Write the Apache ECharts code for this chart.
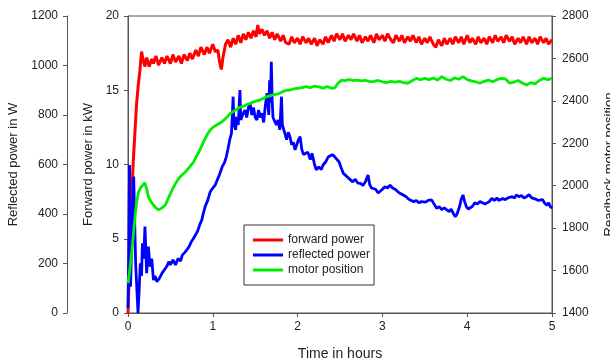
<!DOCTYPE html>
<html>
<head>
<meta charset="utf-8">
<script src="https://cdn.jsdelivr.net/npm/echarts@6/dist/echarts.min.js"></script>
<style>html,body{margin:0;padding:0;background:#fff}#c{width:610px;height:360px}</style>
</head>
<body>
<div id="c"></div>
<script>
// Data: [time in hours, value]
const forwardPower = [[0,0],[0.02,3.5],[0.04,7.0],[0.06,10.0],[0.08,12.0],[0.1,14.0],[0.12,15.3],[0.14,16.3],[0.16,17.6],[0.18,17.0],[0.2,16.6],[0.22,17.2],[0.25,16.6],[0.28,17.1],[0.3,16.8],[0.33,17.3],[0.36,16.7],[0.4,17.2],[0.43,16.8],[0.46,17.3],[0.5,16.8],[0.53,17.4],[0.56,16.9],[0.6,17.3],[0.63,16.8],[0.66,17.4],[0.7,17.0],[0.73,17.5],[0.76,17.1],[0.8,17.7],[0.83,17.3],[0.86,17.9],[0.9,17.4],[0.93,17.9],[0.96,17.5],[1.0,18.1],[1.03,17.6],[1.06,17.7],[1.08,16.9],[1.1,16.4],[1.12,17.2],[1.15,18.1],[1.18,18.4],[1.21,17.9],[1.24,18.5],[1.27,18.1],[1.3,18.7],[1.33,18.2],[1.36,18.8],[1.39,18.4],[1.42,18.9],[1.45,18.5],[1.48,19.0],[1.51,18.6],[1.53,19.4],[1.55,18.8],[1.58,19.1],[1.61,18.7],[1.64,19.0],[1.67,18.5],[1.7,18.9],[1.73,18.4],[1.76,18.8],[1.8,18.3],[1.83,18.7],[1.86,18.2],[1.9,18.1],[1.93,18.6],[1.96,18.2],[2.0,18.5],[2.03,18.1],[2.06,18.6],[2.1,18.2],[2.13,18.5],[2.16,18.1],[2.2,18.5],[2.23,18.0],[2.26,18.4],[2.3,18.1],[2.33,18.6],[2.36,18.2],[2.4,18.7],[2.43,18.3],[2.46,18.8],[2.5,18.4],[2.53,18.8],[2.56,18.3],[2.6,18.7],[2.63,18.4],[2.66,18.8],[2.7,18.3],[2.73,18.7],[2.76,18.2],[2.8,18.6],[2.83,18.3],[2.86,18.7],[2.9,18.2],[2.93,18.8],[2.96,18.4],[3.0,18.7],[3.03,18.3],[3.06,18.8],[3.1,18.4],[3.13,18.2],[3.16,18.7],[3.2,18.3],[3.23,18.7],[3.26,18.2],[3.3,18.6],[3.33,18.3],[3.36,18.7],[3.4,18.2],[3.43,18.6],[3.46,18.1],[3.5,18.5],[3.53,18.2],[3.56,18.6],[3.6,18.1],[3.63,17.9],[3.66,18.4],[3.7,18.0],[3.73,18.5],[3.76,18.1],[3.8,18.5],[3.83,18.1],[3.86,18.6],[3.9,18.2],[3.93,18.6],[3.96,18.1],[4.0,18.7],[4.03,18.2],[4.06,18.5],[4.1,18.1],[4.13,18.6],[4.16,18.2],[4.2,18.5],[4.23,18.1],[4.26,18.6],[4.3,18.2],[4.33,18.7],[4.36,18.3],[4.4,18.6],[4.43,18.2],[4.46,18.7],[4.5,18.3],[4.53,18.6],[4.56,18.1],[4.6,18.5],[4.63,18.2],[4.66,18.6],[4.7,18.1],[4.73,18.6],[4.76,18.2],[4.8,18.5],[4.83,18.1],[4.86,18.6],[4.9,18.2],[4.93,18.5],[4.96,18.1],[5.0,18.4]];

const reflectedPower = [[0,20],[0.01,300],[0.018,598],[0.03,106],[0.045,300],[0.067,551],[0.09,200],[0.118,0],[0.13,80],[0.145,201],[0.16,150],[0.17,282],[0.185,220],[0.2,349],[0.22,161],[0.24,268],[0.26,187],[0.28,220],[0.3,133],[0.32,150],[0.34,127],[0.37,140],[0.4,160],[0.43,175],[0.46,190],[0.48,207],[0.5,195],[0.53,215],[0.56,194],[0.59,220],[0.62,210],[0.64,234],[0.67,245],[0.7,258],[0.72,268],[0.75,290],[0.77,300],[0.79,308],[0.82,330],[0.85,360],[0.87,376],[0.89,405],[0.91,430],[0.94,455],[0.97,490],[1.0,505],[1.03,518],[1.05,524],[1.08,560],[1.11,590],[1.14,610],[1.16,632],[1.18,665],[1.2,700],[1.22,726],[1.23,800],[1.24,874],[1.25,760],[1.27,740],[1.28,793],[1.3,760],[1.32,901],[1.33,780],[1.35,800],[1.38,820],[1.4,790],[1.42,830],[1.44,847],[1.46,800],[1.48,830],[1.5,790],[1.52,780],[1.54,820],[1.56,790],[1.58,807],[1.6,770],[1.62,840],[1.64,888],[1.66,800],[1.67,940],[1.68,850],[1.69,1015],[1.7,860],[1.71,790],[1.73,793],[1.75,760],[1.77,780],[1.79,740],[1.81,874],[1.82,760],[1.85,726],[1.87,700],[1.89,730],[1.91,712],[1.93,680],[1.95,690],[1.97,659],[1.99,680],[2.01,700],[2.03,712],[2.05,660],[2.07,640],[2.09,632],[2.12,650],[2.15,620],[2.17,645],[2.2,600],[2.22,578],[2.25,590],[2.28,580],[2.3,598],[2.33,610],[2.36,630],[2.38,625],[2.41,640],[2.44,630],[2.46,638],[2.49,610],[2.51,590],[2.54,564],[2.57,555],[2.6,545],[2.62,537],[2.65,530],[2.68,540],[2.71,525],[2.74,524],[2.77,515],[2.8,530],[2.83,558],[2.85,520],[2.87,505],[2.89,497],[2.92,500],[2.95,485],[2.97,490],[3.0,500],[3.03,510],[3.06,505],[3.09,517],[3.12,505],[3.15,500],[3.17,497],[3.2,485],[3.23,480],[3.25,477],[3.28,470],[3.31,460],[3.34,455],[3.37,450],[3.4,455],[3.43,445],[3.46,450],[3.48,443],[3.51,448],[3.54,455],[3.56,460],[3.58,457],[3.61,440],[3.64,423],[3.67,430],[3.7,418],[3.73,425],[3.76,416],[3.79,410],[3.81,420],[3.84,400],[3.86,389],[3.88,400],[3.91,430],[3.93,460],[3.95,477],[3.97,450],[3.99,430],[4.01,420],[4.03,416],[4.06,430],[4.09,445],[4.12,440],[4.15,450],[4.18,445],[4.21,440],[4.23,436],[4.26,450],[4.29,463],[4.32,455],[4.35,465],[4.37,455],[4.39,457],[4.42,462],[4.45,458],[4.48,465],[4.5,463],[4.53,470],[4.56,465],[4.58,477],[4.61,470],[4.64,475],[4.67,465],[4.7,470],[4.73,478],[4.76,465],[4.78,470],[4.81,460],[4.84,455],[4.86,450],[4.89,458],[4.91,445],[4.94,436],[4.96,445],[4.98,430],[5.0,423]];

const motorPosition = [[0,1540],[0.02,1600],[0.047,1697],[0.07,1800],[0.09,1880],[0.106,1933],[0.125,1970],[0.145,1988],[0.17,2000],[0.197,2014],[0.22,1985],[0.24,1948],[0.27,1925],[0.3,1909],[0.33,1895],[0.36,1886],[0.4,1895],[0.44,1909],[0.48,1945],[0.52,1980],[0.56,2010],[0.6,2035],[0.64,2052],[0.68,2066],[0.72,2085],[0.77,2110],[0.81,2140],[0.85,2170],[0.9,2215],[0.94,2245],[0.97,2263],[1.0,2275],[1.04,2285],[1.08,2294],[1.12,2305],[1.16,2320],[1.2,2338],[1.24,2349],[1.28,2360],[1.32,2370],[1.36,2375],[1.4,2382],[1.44,2388],[1.48,2395],[1.52,2400],[1.56,2405],[1.6,2412],[1.64,2420],[1.68,2425],[1.72,2430],[1.76,2432],[1.79,2436],[1.83,2445],[1.87,2450],[1.91,2451],[1.95,2456],[2.0,2459],[2.05,2462],[2.1,2467],[2.15,2462],[2.2,2470],[2.25,2466],[2.3,2460],[2.35,2468],[2.4,2459],[2.44,2462],[2.48,2485],[2.52,2498],[2.56,2495],[2.6,2500],[2.65,2496],[2.7,2498],[2.75,2494],[2.8,2497],[2.85,2490],[2.9,2492],[2.95,2496],[3.0,2490],[3.05,2486],[3.1,2492],[3.15,2488],[3.2,2492],[3.25,2486],[3.3,2483],[3.35,2495],[3.4,2506],[3.45,2500],[3.5,2506],[3.55,2500],[3.6,2508],[3.65,2498],[3.7,2514],[3.75,2502],[3.8,2496],[3.85,2508],[3.9,2502],[3.95,2514],[4.0,2500],[4.05,2494],[4.1,2490],[4.15,2483],[4.2,2492],[4.25,2498],[4.3,2490],[4.35,2500],[4.4,2506],[4.45,2504],[4.5,2483],[4.55,2488],[4.6,2496],[4.65,2484],[4.7,2475],[4.75,2486],[4.8,2480],[4.85,2496],[4.9,2506],[4.95,2500],[5.0,2506]];

const seriesNames = ['forward power', 'reflected power', 'motor position'];

const chart = echarts.init(document.getElementById('c'), null, {renderer: 'canvas'});
const axisColor = '#555';
const font = 'Liberation Sans, Arial, sans-serif';
const plain = v => String(v);
const labelStyle = {color: '#222', fontSize: 12, fontFamily: font, formatter: plain};
const nameStyle = {color: '#222', fontSize: 13, fontFamily: font};
chart.setOption({
  animation: false,
  backgroundColor: '#fff',
  grid: {left: 128, right: 58, top: 16, bottom: 47, containLabel: false, outerBoundsMode: 'none',
         show: true, borderColor: axisColor, borderWidth: 1},
  legend: {
    left: 244, top: 225, orient: 'vertical',
    padding: [8, 4, 8, 9], itemGap: 1, itemWidth: 30, itemHeight: 3, itemStyle: {borderWidth: 0},
    icon: 'rect', borderColor: '#333', borderWidth: 1, backgroundColor: '#fff',
    textStyle: {color: '#222', fontSize: 12, lineHeight: 14, fontFamily: font},
    data: seriesNames
  },
  xAxis: {
    type: 'value', min: 0, max: 5, interval: 1,
    name: 'Time in hours', nameLocation: 'middle', nameGap: 34,
    nameTextStyle: {color: '#222', fontSize: 14, fontFamily: font},
    axisLine: {lineStyle: {color: axisColor}}, axisTick: {length: 4, lineStyle: {color: axisColor}},
    axisLabel: Object.assign({margin: 8}, labelStyle), splitLine: {show: false}
  },
  yAxis: [
    {
      type: 'value', position: 'left', min: 0, max: 20, interval: 5,
      name: 'Forward power in kW', nameLocation: 'middle', nameGap: 28, nameTextStyle: nameStyle,
      axisLine: {show: true, lineStyle: {color: axisColor}}, axisTick: {show: true, length: 4, lineStyle: {color: axisColor}},
      axisLabel: Object.assign({margin: 9}, labelStyle), splitLine: {show: false}
    },
    {
      type: 'value', position: 'left', offset: 61, min: 0, max: 1200, interval: 200,
      name: 'Reflected power in W', nameLocation: 'middle', nameGap: 42, nameTextStyle: nameStyle,
      axisLine: {show: true, lineStyle: {color: axisColor}}, axisTick: {show: true, length: 4, lineStyle: {color: axisColor}},
      axisLabel: Object.assign({margin: 9}, labelStyle), splitLine: {show: false}
    },
    {
      type: 'value', position: 'right', min: 1400, max: 2800, interval: 200,
      name: 'Readback motor position', nameLocation: 'middle', nameGap: 51, nameTextStyle: nameStyle,
      axisLine: {show: true, lineStyle: {color: axisColor}}, axisTick: {show: true, length: 4, lineStyle: {color: axisColor}},
      axisLabel: Object.assign({margin: 10}, labelStyle), splitLine: {show: false}
    }
  ],
  series: [
    {name: seriesNames[0], type: 'line', yAxisIndex: 0, data: forwardPower, showSymbol: false, color: '#ff0000', lineStyle: {width: 3, color: '#ff0000'}},
    {name: seriesNames[1], type: 'line', yAxisIndex: 1, data: reflectedPower, showSymbol: false, color: '#0000ff', lineStyle: {width: 2.8, color: '#0000ff'}},
    {name: seriesNames[2], type: 'line', yAxisIndex: 2, data: motorPosition, showSymbol: false, color: '#00ee00', lineStyle: {width: 2.8, color: '#00ee00'}}
  ]
});
</script>
</body>
</html>
